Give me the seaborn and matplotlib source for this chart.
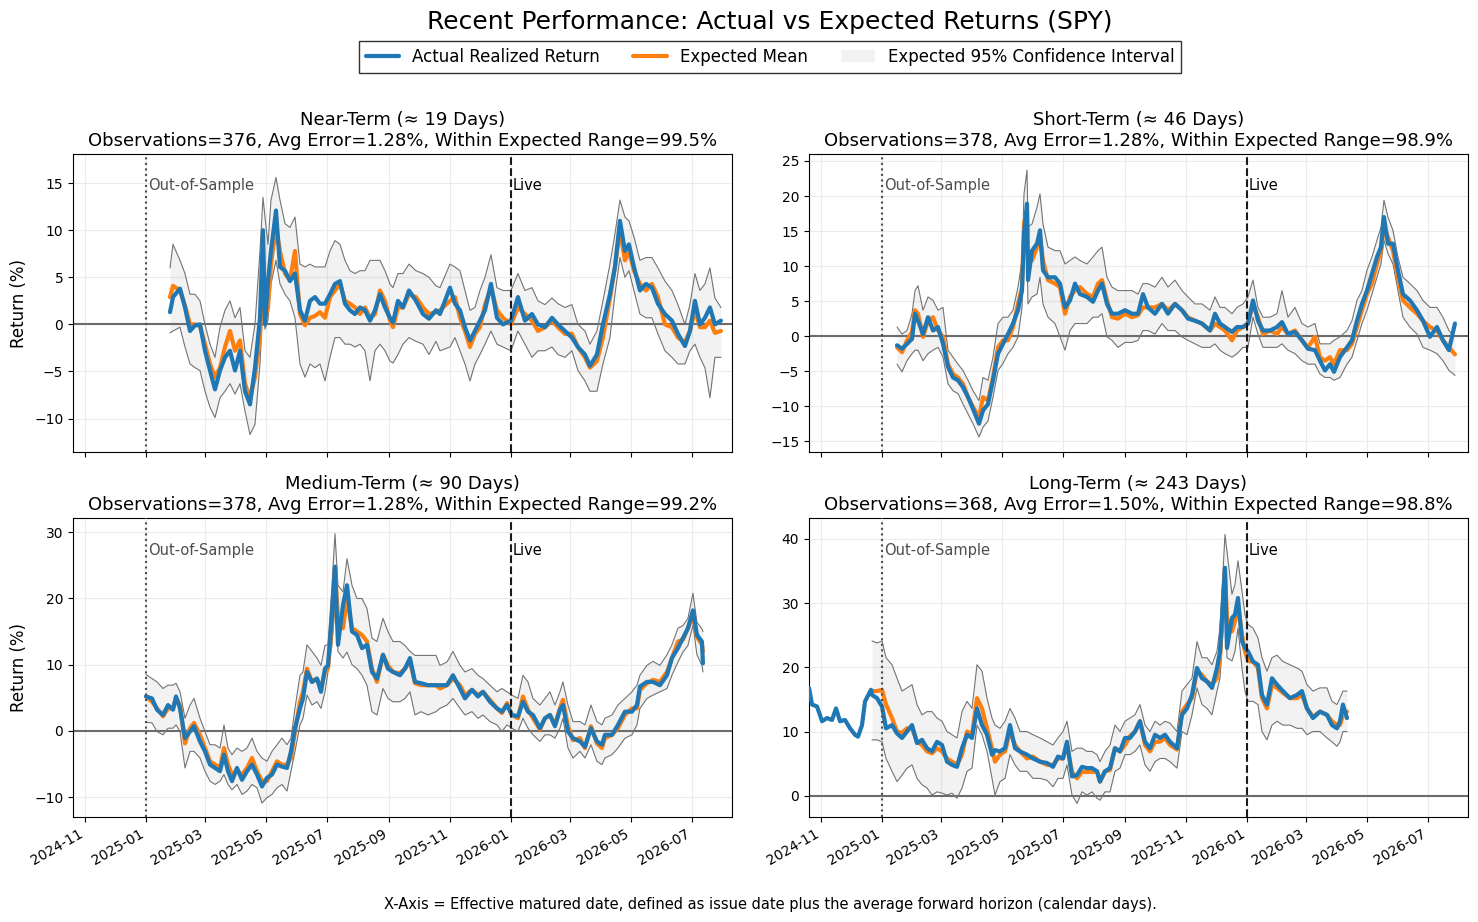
import pandas as pd
import seaborn as sns
import matplotlib
matplotlib.use("Agg")
from matplotlib import pyplot as plt
import matplotlib.dates as mdates
from matplotlib.lines import Line2D
from matplotlib.patches import Patch

# Day offsets are counted from 2025-01-01 (effective matured date)
BASE_DATE = "2025-01-01"

# ---- Near-Term (~19 days) ----
near_days = [24, 27, 34, 39, 44, 49, 54, 59, 64, 69,
             74, 79, 84, 89, 94, 99, 104, 109, 114, 117,
             119, 122, 125, 130, 134, 139, 144, 149, 154, 159,
             164, 169, 174, 179, 184, 189, 194, 199, 204, 209,
             214, 219, 224, 229, 234, 239, 244, 247, 252, 257,
             263, 270, 277, 283, 290, 294, 304, 309, 314, 319,
             324, 329, 334, 339, 345, 351, 357, 365, 372, 379,
             386, 392, 399, 406, 412, 419, 426, 432, 439, 444,
             451, 457, 464, 469, 474, 479, 483, 488, 494, 500,
             506, 512, 519, 526, 532, 539, 544, 549, 554, 559,
             564, 569, 575]
near_actual = [1.3, 2.9, 3.8, 1.8, -0.7, -0.1, 0.0, -2.8, -4.9, -6.9,
               -4.9, -3.5, -2.8, -4.9, -2.8, -7.1, -8.5, -4.6, 0.7, 10.0,
               0.0, 4.6, 7.8, 12.1, 6.1, 5.7, 4.6, 5.4, 1.5, 0.4,
               2.5, 2.9, 2.2, 2.2, 3.2, 4.3, 4.6, 2.2, 1.5, 1.1,
               1.8, 1.5, 0.4, 1.5, 3.2, 1.8, 0.7, 0.2, 2.5, 1.8,
               3.6, 2.5, 1.1, 0.6, 1.5, 1.1, 3.9, 2.2, 1.5, -0.3,
               -1.7, -0.7, 0.4, 1.5, 4.3, 0.7, 0.0, 0.4, 2.9, 0.4,
               1.1, 0.0, -0.3, 0.7, 0.0, -0.7, -1.4, -2.4, -3.2, -4.4,
               -3.2, 0.0, 3.2, 6.1, 11.0, 7.8, 8.5, 6.1, 3.6, 4.3,
               3.9, 2.2, 1.1, 0.4, -1.0, -2.3, -0.7, 2.5, 0.0, 0.7,
               1.8, 0.0, 0.4]
near_mean = [2.9, 4.1, 3.6, 2.0, 0.0, 0.0, -0.2, -2.1, -4.2, -5.6,
             -4.6, -2.4, -0.7, -2.8, -1.7, -6.3, -7.8, -5.6, -1.4, 7.8,
             0.7, 1.8, 6.4, 10.3, 7.8, 5.4, 4.7, 7.8, 1.1, -0.1,
             0.7, 0.9, 1.3, 0.7, 2.9, 3.6, 4.3, 2.5, 2.2, 1.8,
             1.1, 1.8, 0.7, 1.1, 3.6, 2.5, 0.4, -0.3, 1.8, 1.8,
             3.2, 2.9, 1.8, 1.1, 1.3, 1.5, 2.5, 2.9, 0.7, -0.7,
             -2.4, -1.0, -0.3, 2.1, 3.9, 1.5, 0.7, 0.0, 1.8, 1.1,
             0.4, -0.7, -0.3, 0.4, -0.3, -1.0, -1.0, -2.4, -3.5, -4.6,
             -3.9, -1.4, 2.8, 6.1, 10.0, 6.8, 7.8, 5.7, 4.3, 3.6,
             4.3, 2.9, 0.0, -0.3, -1.4, -1.9, -0.7, 1.5, -0.3, -0.3,
             0.4, -0.9, -0.7]
near_upper = [6.0, 8.5, 6.8, 5.4, 3.2, 3.2, 2.5, 0.0, -2.1, -3.5,
              -0.3, 1.5, 2.5, 0.7, 1.8, -2.8, -3.5, 0.0, 7.8, 13.5,
              11.4, 8.5, 13.2, 15.6, 13.2, 10.7, 10.3, 11.4, 6.4, 6.1,
              6.4, 6.1, 6.1, 6.1, 7.8, 8.9, 8.5, 6.8, 5.7, 5.4,
              5.7, 5.7, 6.8, 6.8, 6.8, 5.7, 4.3, 3.9, 5.4, 5.4,
              6.4, 5.7, 5.4, 5.0, 4.1, 3.9, 6.4, 6.1, 5.7, 3.6,
              1.5, 1.8, 3.6, 5.0, 7.4, 3.9, 3.6, 3.6, 5.4, 3.6,
              3.9, 2.5, 2.1, 2.8, 2.2, 1.8, 2.1, 0.0, -0.7, -2.1,
              -0.7, 2.5, 6.4, 9.6, 13.2, 11.4, 11.0, 9.3, 6.8, 7.1,
              7.1, 6.0, 4.6, 3.6, 2.1, 0.0, 2.1, 5.4, 3.6, 4.3,
              6.0, 2.8, 1.8]
near_lower = [-0.9, -0.7, -0.3, -2.4, -4.2, -4.6, -4.9, -7.1, -8.8, -9.9,
              -7.8, -7.1, -6.3, -7.4, -6.3, -9.2, -11.7, -10.6, -4.2, 2.5,
              -0.5, 0.5, 4.3, 6.8, 4.3, 3.2, 2.5, 0.7, -4.2, -5.6,
              -4.2, -4.6, -4.2, -6.0, -3.5, -1.4, -1.4, -2.1, -2.1, -2.4,
              -2.1, -2.8, -6.0, -2.8, -2.1, -2.8, -3.9, -4.1, -3.2, -2.1,
              -1.4, -1.8, -2.1, -3.2, -1.8, -2.8, -2.4, -1.4, -2.8, -4.2,
              -6.0, -4.2, -3.2, -2.1, -0.7, -2.1, -2.4, -2.8, -0.7, -2.1,
              -3.5, -2.8, -2.8, -2.4, -3.2, -3.5, -2.8, -4.9, -6.0, -7.1,
              -7.1, -4.2, -1.4, 3.2, 7.1, 5.0, 5.7, 3.6, 1.1, 0.7,
              0.7, -1.0, -2.8, -3.5, -4.2, -4.2, -2.8, -2.1, -3.5, -4.6,
              -7.8, -3.5, -3.5]

# ---- Short-Term (~46 days) ----
short_days = [15, 20, 25, 30, 33, 36, 41, 46, 51, 56,
              61, 66, 71, 76, 81, 86, 91, 97, 101, 106,
              111, 116, 121, 126, 131, 136, 140, 142, 145, 146,
              150, 155, 158, 161, 166, 173, 178, 183, 188, 193,
              198, 205, 211, 216, 220, 225, 230, 236, 243, 250,
              256, 261, 266, 273, 280, 286, 293, 300, 306, 313,
              320, 328, 333, 338, 343, 350, 355, 361, 366, 371,
              376, 381, 388, 395, 400, 406, 413, 420, 426, 433,
              438, 443, 448, 452, 458, 465, 470, 475, 480, 485,
              490, 495, 499, 502, 506, 511, 516, 521, 528, 535,
              541, 548, 555, 561, 567, 573]
short_actual = [-1.3, -1.8, -1.1, -0.4, 3.2, 2.2, 0.3, 2.7, 0.8, 1.3,
                -1.1, -4.4, -5.9, -6.3, -7.3, -8.7, -10.4, -12.5, -10.6, -9.7,
                -6.3, -2.5, -1.1, 0.3, 1.8, 3.7, 6.5, 14.6, 18.9, 8.0,
                12.2, 13.2, 15.1, 9.4, 8.4, 8.4, 7.5, 4.1, 5.1, 7.5,
                6.0, 5.6, 4.9, 6.5, 7.5, 4.6, 3.2, 3.2, 3.7, 3.2,
                3.2, 6.0, 4.1, 3.2, 4.6, 3.2, 4.6, 3.7, 2.5, 2.2,
                1.8, 0.8, 3.2, 1.8, 1.3, 0.6, 1.3, 1.3, 1.8, 5.1,
                2.2, 0.8, 0.8, 1.3, 2.0, 0.3, 0.6, -0.6, -1.8, -2.0,
                -3.5, -4.9, -4.0, -5.1, -3.0, -1.6, -0.6, 2.2, 4.6, 6.5,
                8.9, 11.3, 12.7, 17.0, 13.2, 13.2, 9.4, 6.0, 5.1, 3.7,
                2.2, -0.1, 1.3, -0.6, -2.0, 1.8]
short_mean = [-1.6, -2.3, -0.6, 0.6, 3.7, 3.2, -0.1, 2.2, 2.7, 0.8,
              -0.1, -4.0, -5.4, -5.9, -6.8, -8.7, -10.1, -11.6, -8.7, -9.2,
              -5.9, -1.6, -0.6, -0.6, 1.3, 4.6, 7.0, 16.0, 18.0, 10.8,
              10.8, 12.7, 14.1, 10.8, 8.0, 7.5, 7.0, 3.2, 5.6, 6.5,
              7.0, 6.0, 5.6, 7.5, 8.0, 5.1, 2.7, 2.5, 3.2, 2.7,
              3.0, 4.1, 4.1, 4.1, 4.6, 3.7, 4.6, 3.7, 2.7, 2.2,
              1.8, 0.8, 1.8, 1.3, 0.8, -0.6, 0.8, 1.3, 1.8, 4.6,
              2.7, 0.3, 0.8, 0.3, 1.3, 0.3, 0.8, -0.6, -1.6, -0.1,
              -3.0, -3.5, -3.0, -4.0, -2.0, -2.0, -1.1, 1.3, 3.7, 6.0,
              7.5, 10.3, 12.2, 15.6, 14.1, 12.2, 8.4, 5.1, 4.1, 3.2,
              2.2, 1.3, 0.8, -0.6, -1.6, -2.6]
short_upper = [1.3, 0.3, 0.8, 3.2, 6.5, 7.2, 3.7, 5.6, 5.1, 3.7,
               4.1, -2.0, -3.0, -4.0, -4.9, -6.3, -7.8, -9.2, -5.9, -6.3,
               -3.0, 1.8, 2.7, 2.7, 3.7, 7.0, 10.8, 20.3, 23.7, 15.6,
               16.0, 18.4, 20.3, 16.0, 12.7, 12.2, 12.2, 10.3, 10.8, 11.3,
               10.8, 10.3, 11.3, 12.2, 12.7, 8.4, 7.0, 6.5, 6.5, 6.5,
               6.0, 7.5, 7.5, 7.0, 8.4, 7.0, 8.0, 6.5, 5.6, 4.6,
               4.6, 3.7, 5.6, 4.1, 4.1, 3.2, 4.1, 4.6, 5.6, 8.0,
               4.1, 2.7, 2.7, 3.2, 6.5, 2.7, 4.1, 1.8, 1.3, 1.8,
               -1.1, -1.1, -1.1, -0.6, -0.1, 0.8, 2.2, 5.1, 6.5, 9.4,
               11.3, 13.7, 15.5, 19.4, 17.0, 15.1, 11.3, 8.4, 7.5, 6.5,
               5.1, 4.1, 4.1, 2.7, 0.8, -0.1]
short_lower = [-4.0, -5.1, -3.5, -2.5, -2.0, -2.0, -3.5, -2.5, -2.0, -1.6,
               -3.0, -6.8, -7.8, -8.2, -9.7, -11.1, -12.5, -14.4, -13.0, -12.1,
               -8.7, -4.9, -3.9, -2.5, -1.6, -0.1, 4.1, 12.2, 12.2, 4.6,
               5.6, 6.0, 8.4, 4.6, 2.7, 1.8, -0.1, -2.0, 0.8, 1.8,
               1.8, 1.8, 2.7, 2.7, 3.2, -0.1, -0.6, -1.6, -0.9, -0.9,
               -0.6, 0.8, 0.8, 0.3, 1.8, 0.8, 0.8, -0.1, -0.6, -1.1,
               -1.6, -1.6, -1.1, -2.0, -2.5, -3.0, -2.5, -1.6, -1.6, 2.7,
               0.3, -1.6, -1.6, -1.6, -1.1, -2.0, -2.5, -3.5, -4.0, -4.0,
               -5.4, -5.9, -5.9, -6.3, -5.9, -4.0, -3.0, -0.6, 1.8, 3.7,
               6.0, 8.4, 10.3, 13.7, 11.8, 10.3, 6.5, 2.7, 1.3, 0.3,
               -1.6, -2.0, -2.5, -3.5, -4.9, -5.6]

# ---- Medium-Term (~90 days) ----
medium_days = [0, 6, 11, 17, 22, 27, 30, 34, 39, 44,
               48, 54, 59, 64, 69, 74, 78, 82, 86, 91,
               96, 101, 106, 111, 116, 121, 126, 131, 136, 141,
               145, 149, 154, 157, 161, 166, 171, 175, 179, 182,
               186, 189, 192, 197, 201, 206, 211, 216, 221, 226,
               231, 237, 242, 247, 254, 259, 264, 269, 275, 282,
               290, 294, 301, 307, 314, 319, 326, 332, 337, 344,
               351, 356, 361, 366, 372, 377, 382, 387, 394, 399,
               404, 409, 414, 417, 422, 427, 434, 439, 445, 451,
               456, 459, 466, 472, 479, 486, 491, 494, 501, 507,
               514, 521, 526, 532, 537, 542, 547, 551, 556, 557]
medium_actual = [5.2, 4.9, 3.2, 2.4, 3.9, 3.2, 5.2, 3.4, -1.1, -0.1,
                 0.7, -1.6, -3.1, -5.1, -5.6, -6.1, -3.6, -6.1, -7.6, -5.6,
                 -7.4, -6.1, -5.1, -6.6, -8.4, -7.1, -6.6, -5.1, -5.4, -5.6,
                 -3.1, 0.4, 3.4, 4.9, 8.9, 7.4, 7.9, 5.9, 9.4, 9.9,
                 17.5, 24.8, 13.0, 19.0, 22.0, 15.0, 14.5, 12.5, 13.0, 8.9,
                 7.9, 11.5, 9.4, 8.9, 8.4, 9.4, 11.0, 7.4, 7.2, 6.9,
                 6.9, 6.9, 6.9, 8.4, 6.4, 4.9, 6.2, 5.2, 5.9, 4.4,
                 3.4, 2.9, 3.9, 2.4, 2.2, 4.4, 2.9, 2.4, 0.4, 1.9,
                 2.4, 0.7, 3.2, 3.9, -0.1, -1.1, -1.6, -2.4, 0.4, -1.6,
                 -2.1, -0.6, -0.6, 0.9, 2.9, 2.9, 3.9, 6.7, 7.4, 7.4,
                 6.9, 8.4, 11.0, 12.5, 14.0, 15.5, 18.2, 14.5, 13.5, 10.2]
medium_mean = [5.2, 4.4, 3.4, 2.2, 3.4, 3.4, 4.9, 3.9, -1.9, 0.4,
               1.2, -0.6, -2.6, -4.6, -5.1, -5.6, -2.6, -5.1, -6.6, -6.1,
               -6.6, -5.6, -4.1, -6.1, -7.6, -7.6, -6.1, -4.6, -5.1, -5.1,
               -4.1, -0.1, 4.4, 5.9, 9.4, 7.4, 7.9, 6.4, 8.9, 9.4,
               16.0, 24.5, 17.0, 15.5, 20.0, 15.5, 15.0, 14.5, 13.5, 9.4,
               7.4, 11.5, 9.9, 8.9, 8.7, 9.4, 10.5, 7.2, 6.9, 6.9,
               6.9, 6.4, 6.9, 7.9, 6.9, 5.4, 6.2, 5.4, 5.9, 4.7,
               3.4, 2.7, 4.2, 2.4, 1.9, 5.2, 3.2, 1.9, 0.2, 1.9,
               2.4, 0.9, 3.4, 4.7, 0.7, -1.4, -1.1, -2.6, 0.7, -1.9,
               -2.6, -1.1, -0.6, 0.4, 2.4, 3.4, 3.4, 6.2, 7.2, 7.7,
               7.4, 8.9, 11.0, 13.5, 13.8, 15.5, 17.5, 14.2, 13.0, 12.0]
medium_upper = [8.5, 7.9, 7.4, 6.4, 6.9, 6.9, 7.2, 5.9, 1.9, 3.9,
                4.9, 1.9, -0.1, -2.1, -2.1, -2.6, 0.9, -2.6, -3.6, -2.6,
                -3.1, -2.6, -1.1, -3.1, -4.1, -4.6, -3.1, -2.1, -1.1, -2.1,
                -1.1, 3.4, 8.4, 8.9, 13.0, 12.0, 11.0, 9.9, 12.9, 13.0,
                22.0, 29.8, 22.0, 21.0, 26.0, 22.0, 20.0, 20.0, 18.5, 14.0,
                13.5, 17.0, 15.0, 13.5, 13.5, 12.9, 12.0, 11.4, 11.4, 11.4,
                11.4, 9.9, 10.4, 12.0, 9.9, 8.9, 9.4, 8.4, 7.9, 6.9,
                5.9, 6.4, 5.9, 5.4, 4.9, 8.4, 7.4, 4.9, 3.9, 4.9,
                5.9, 3.9, 5.9, 7.4, 3.9, 1.4, 1.4, 0.9, 3.9, 1.4,
                0.9, 1.9, 2.4, 3.9, 4.9, 5.9, 6.9, 8.4, 9.9, 10.5,
                9.9, 11.5, 13.0, 15.5, 15.9, 17.0, 20.8, 16.4, 15.4, 15.0]
medium_lower = [1.3, 1.2, -0.1, -0.6, 0.4, 0.4, 0.9, -0.1, -5.6, -3.1,
                -3.1, -4.1, -6.1, -7.6, -8.1, -7.6, -6.6, -8.1, -8.9, -8.1,
                -9.6, -9.1, -8.1, -8.6, -10.9, -10.1, -9.6, -8.6, -8.1, -9.1,
                -6.1, -3.1, 0.9, 1.9, 5.4, 3.9, 4.4, 3.4, 5.9, 8.9,
                13.0, 19.0, 12.0, 11.0, 11.9, 10.0, 9.4, 8.4, 6.9, 2.9,
                2.4, 6.4, 4.9, 4.4, 4.4, 4.9, 5.9, 2.4, 2.9, 2.4,
                2.9, 3.4, 3.9, 4.9, 3.4, 2.4, 2.9, 1.9, 2.4, 1.4,
                0.9, -0.1, 0.9, 0.4, -0.1, 1.9, 0.4, -0.6, -1.6, -0.6,
                -0.6, -1.1, 0.4, 1.9, -2.6, -4.1, -3.1, -4.1, -2.1, -4.6,
                -5.1, -4.1, -3.6, -2.6, -1.1, -0.6, 0.9, 3.4, 4.9, 5.4,
                5.9, 6.4, 8.4, 10.4, 11.9, 12.9, 16.0, 11.5, 9.9, 8.9]

# ---- Long-Term (~243 days); realized history starts before the forecast band ----
long_days = [-73, -70, -65, -60, -55, -50, -46, -42, -37, -32, -27, -24, -20, -17, -11,
             -10, -5, 0, 4, 10, 15, 20, 25, 30, 35,
             40, 45, 50, 55, 60, 65, 70, 75, 80, 85,
             90, 95, 100, 105, 110, 113, 118, 123, 128, 133,
             138, 145, 151, 158, 165, 171, 176, 181, 185, 190,
             195, 200, 205, 210, 215, 218, 223, 228, 233, 238,
             243, 248, 253, 258, 263, 268, 273, 278, 283, 288,
             295, 300, 305, 310, 315, 320, 325, 330, 335, 338,
             343, 345, 350, 353, 356, 360, 363, 366, 371, 376,
             380, 385, 390, 395, 401, 408, 415, 420, 425, 431,
             438, 445, 450, 455, 458, 461, 465]
long_actual = [16.8, 14.2, 13.9, 11.6, 12.1, 11.8, 13.6, 11.6, 11.8, 10.5, 9.5, 9.2, 11.0, 14.7, 16.5,
               15.7, 15.2, 13.9, 10.5, 11.0, 9.7, 9.0, 10.0, 11.0, 8.2,
               8.7, 7.4, 6.9, 8.4, 7.9, 5.3, 4.8, 4.5, 7.4, 9.5,
               9.0, 13.6, 11.0, 9.5, 6.4, 7.1, 6.9, 7.4, 11.0, 7.4,
               6.9, 6.4, 5.8, 5.3, 5.1, 4.5, 6.1, 5.8, 8.4, 3.0,
               3.2, 4.5, 4.3, 4.3, 3.8, 2.2, 3.8, 4.3, 7.4, 6.9,
               9.0, 9.0, 10.0, 11.6, 8.4, 7.4, 9.5, 9.0, 9.5, 8.4,
               7.4, 12.6, 13.6, 15.7, 19.9, 18.3, 17.8, 16.8, 19.9, 22.5,
               35.5, 23.0, 27.7, 28.2, 30.8, 24.1, 23.0, 22.5, 20.9, 20.4,
               15.7, 14.2, 18.3, 17.3, 16.3, 15.2, 15.7, 16.3, 13.6, 12.1,
               13.1, 12.6, 11.0, 10.5, 11.6, 14.2, 12.1]
long_mean = [None] * 15 + [
             16.3, 16.3, 16.5, 14.2, 12.1, 10.0, 9.8, 10.5, 10.5, 8.4,
             7.9, 6.9, 6.6, 7.4, 6.9, 5.8, 5.3, 4.8, 6.4, 10.0,
             9.5, 15.2, 13.6, 10.5, 7.4, 5.3, 6.4, 6.9, 10.0, 7.9,
             6.9, 5.8, 6.1, 5.3, 4.8, 4.8, 5.8, 5.8, 7.9, 3.7,
             2.7, 3.7, 3.7, 3.7, 3.8, 2.2, 3.8, 4.0, 7.4, 6.9,
             7.9, 9.3, 10.0, 11.6, 7.9, 6.9, 8.4, 8.4, 9.0, 7.9,
             7.2, 13.1, 14.2, 15.2, 19.4, 18.8, 17.8, 17.3, 18.3, 21.5,
             35.0, 27.7, 25.6, 27.2, 29.8, 25.1, 22.5, 21.0, 20.9, 19.9,
             15.2, 13.6, 17.3, 16.8, 16.0, 15.2, 15.2, 15.7, 13.6, 12.3,
             13.1, 12.6, 11.6, 11.0, 11.0, 12.6, 13.1]
long_upper = [None] * 15 + [
              24.1, 23.8, 24.1, 21.5, 20.4, 18.3, 16.3, 16.8, 17.3, 14.2,
              12.6, 13.1, 13.1, 12.1, 11.6, 10.0, 9.5, 9.0, 13.1, 14.7,
              13.6, 20.4, 19.4, 15.2, 12.1, 11.0, 10.5, 11.6, 13.6, 12.1,
              10.0, 10.0, 9.5, 9.0, 8.4, 7.9, 9.0, 10.0, 11.6, 6.9,
              7.4, 7.4, 6.9, 6.9, 6.4, 5.3, 6.9, 7.9, 11.0, 10.0,
              11.6, 12.1, 12.6, 14.2, 11.0, 10.0, 11.6, 11.0, 11.6, 11.3,
              10.0, 16.3, 17.3, 18.3, 24.0, 21.5, 21.5, 20.4, 22.5, 26.1,
              40.7, 38.1, 31.4, 32.9, 36.6, 31.9, 28.2, 26.7, 26.1, 24.6,
              21.5, 19.4, 21.5, 21.9, 20.9, 20.4, 19.9, 19.4, 17.3, 16.3,
              16.8, 16.8, 14.7, 14.2, 15.2, 16.3, 16.3]
long_lower = [None] * 15 + [
              8.7, 8.7, 8.4, 5.8, 3.8, 2.2, 3.2, 4.3, 4.8, 2.7,
              1.7, 1.2, 0.1, 0.6, 0.4, 0.1, 0.4, -0.4, 1.2, 3.8,
              4.3, 11.0, 9.5, 6.9, 2.7, 0.1, 2.2, 2.7, 6.4, 4.8,
              3.8, 3.8, 2.7, 2.7, 2.4, 1.4, 2.7, 2.7, 4.8, 0.1,
              -1.2, 0.6, 0.1, 0.6, -0.4, -0.7, 0.6, 0.6, 3.8, 4.3,
              6.4, 6.4, 6.9, 7.9, 4.8, 3.8, 5.3, 5.8, 5.8, 5.3,
              4.3, 10.0, 9.5, 12.6, 16.8, 14.2, 13.6, 12.6, 16.3, 18.3,
              30.3, 21.5, 21.0, 22.5, 26.1, 19.9, 16.3, 14.7, 14.7, 14.2,
              10.0, 8.7, 11.0, 11.6, 11.0, 11.0, 10.5, 10.5, 9.5, 10.0,
              10.0, 9.0, 8.4, 7.7, 8.4, 10.0, 10.0]

horizon_names = ["Near-Term (\u2248 19 Days)", "Short-Term (\u2248 46 Days)",
                 "Medium-Term (\u2248 90 Days)", "Long-Term (\u2248 243 Days)"]
observations = [376, 378, 378, 368]
avg_error = [1.28, 1.28, 1.28, 1.50]
within_range = [99.5, 98.9, 99.2, 98.8]

series = [
    (near_days, near_actual, near_mean, near_upper, near_lower),
    (short_days, short_actual, short_mean, short_upper, short_lower),
    (medium_days, medium_actual, medium_mean, medium_upper, medium_lower),
    (long_days, long_actual, long_mean, long_upper, long_lower),
]
ylims = [(-13.6, 18.1), (-16.6, 26.0), (-13.0, 32.1), (-3.3, 43.2)]

OOS_DATE = pd.Timestamp("2025-01-01")
LIVE_DATE = pd.Timestamp("2026-01-01")

sns.set_style("ticks", {"axes.edgecolor": "black", "text.color": "black",
                        "axes.labelcolor": "black", "xtick.color": "black",
                        "ytick.color": "black"})

fig, axes = plt.subplots(2, 2, figsize=(14.78, 9.22), dpi=100, sharex=True)
fig.subplots_adjust(left=0.0494, right=0.9932, top=0.833, bottom=0.114,
                    hspace=0.221, wspace=0.117)

for i, ax in enumerate(axes.flat):
    days, actual, mean, upper, lower = series[i]
    df = pd.DataFrame({
        "date": pd.Timestamp(BASE_DATE) + pd.to_timedelta(days, unit="D"),
        "actual": actual, "mean": mean, "upper": upper, "lower": lower,
    })
    band = df.dropna(subset=["mean", "upper", "lower"])

    ax.grid(True, color="0.92", linewidth=0.8)
    ax.axhline(0, color="0.42", linewidth=1.5, zorder=1)

    ax.fill_between(band["date"], band["lower"], band["upper"],
                    color="gray", alpha=0.1, linewidth=0, zorder=2)
    sns.lineplot(data=band, x="date", y="upper", color="0.45", linewidth=0.8,
                 errorbar=None, ax=ax, zorder=3)
    sns.lineplot(data=band, x="date", y="lower", color="0.45", linewidth=0.8,
                 errorbar=None, ax=ax, zorder=3)
    sns.lineplot(data=band, x="date", y="mean", color="tab:orange", linewidth=3,
                 errorbar=None, ax=ax, zorder=4)
    sns.lineplot(data=df, x="date", y="actual", color="tab:blue", linewidth=3,
                 errorbar=None, ax=ax, zorder=5)

    ax.axvline(OOS_DATE, color="0.3", linestyle=":", linewidth=1.5, zorder=6)
    ax.axvline(LIVE_DATE, color="0.1", linestyle="--", linewidth=1.5, zorder=6)
    ax.text(OOS_DATE + pd.Timedelta(days=2), 0.893, "Out-of-Sample",
            transform=ax.get_xaxis_transform(), color="0.3", fontsize=10.5, va="center")
    ax.text(LIVE_DATE + pd.Timedelta(days=2), 0.893, "Live",
            transform=ax.get_xaxis_transform(), color="black", fontsize=10.5, va="center")

    ax.set_title(f"{horizon_names[i]}\nObservations={observations[i]}, "
                 f"Avg Error={avg_error[i]:.2f}%, Within Expected Range={within_range[i]:.1f}%",
                 fontsize=13)
    ax.set_ylim(*ylims[i])
    ax.set_xlabel("")
    ax.set_ylabel("Return (%)" if i % 2 == 0 else "", fontsize=12)
    ax.tick_params(labelsize=10)

axes[0, 0].set_xlim(pd.Timestamp("2024-10-20"), pd.Timestamp("2026-08-10"))
axes[0, 0].xaxis.set_major_locator(mdates.MonthLocator(bymonth=[1, 3, 5, 7, 9, 11]))
axes[0, 0].xaxis.set_major_formatter(mdates.DateFormatter("%Y-%m"))
for ax in axes[1]:
    plt.setp(ax.get_xticklabels(), rotation=30, ha="right")

handles = [
    Line2D([], [], color="tab:blue", linewidth=3, label="Actual Realized Return"),
    Line2D([], [], color="tab:orange", linewidth=3, label="Expected Mean"),
    Patch(facecolor="gray", alpha=0.1, edgecolor="none", label="Expected 95% Confidence Interval"),
]
fig.legend(handles=handles, loc="center", bbox_to_anchor=(0.521, 0.938), ncol=3,
           fontsize=12, fancybox=False, edgecolor="0.2", framealpha=1)

fig.suptitle("Recent Performance: Actual vs Expected Returns (SPY)",
             x=0.521, y=0.976, fontsize=18, va="center")
fig.text(0.521, 0.0195, "X-Axis = Effective matured date, defined as issue date plus "
         "the average forward horizon (calendar days).",
         ha="center", va="center", fontsize=10.5)

plt.savefig("out.png", dpi=100)
